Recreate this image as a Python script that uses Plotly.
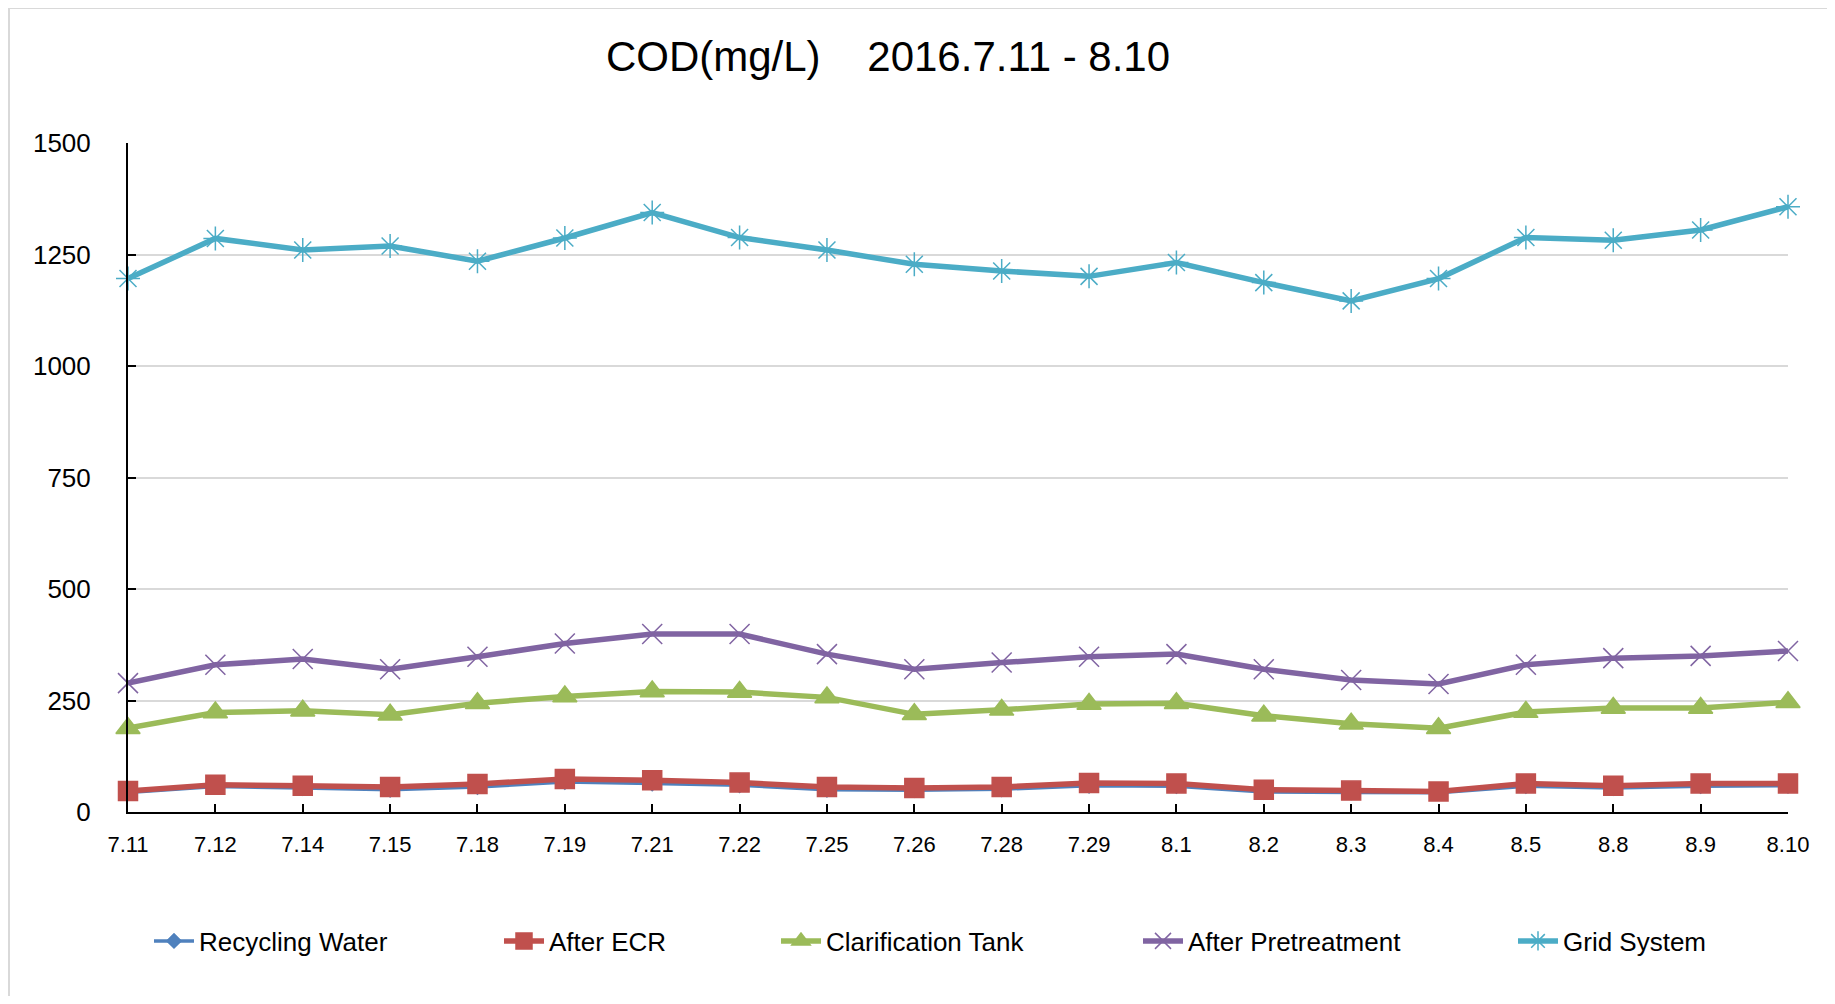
import plotly.graph_objects as go

# data
dates = ["7.11", "7.12", "7.14", "7.15", "7.18", "7.19", "7.21", "7.22", "7.25", "7.26",
         "7.28", "7.29", "8.1", "8.2", "8.3", "8.4", "8.5", "8.8", "8.9", "8.10"]
recycling_water = [44, 57, 54, 50, 56, 67, 64, 60, 50, 49, 51, 59, 58, 45, 44, 43, 58, 54, 58, 59]
after_ecr = [47, 61, 59, 56, 63, 74, 71, 66, 56, 54, 56, 65, 64, 50, 48, 46, 64, 59, 64, 64]
clarification_tank = [188, 223, 227, 218, 244, 259, 270, 269, 257, 219, 229, 242, 244, 216, 198, 188, 224, 233, 233, 246]
after_pretreatment = [289, 330, 343, 320, 348, 378, 399, 399, 354, 320, 335, 348, 354, 320, 296, 287, 330, 345, 350, 361]
grid_system = [1196, 1286, 1260, 1269, 1235, 1287, 1344, 1288, 1260, 1228, 1213, 1201, 1232, 1187, 1146, 1196, 1288, 1282, 1305, 1357]
y_ticks = [0, 250, 500, 750, 1000, 1250, 1500]

# page body has an 8px margin, so the figure is a bit smaller than the window
W, H = 1827, 988
ML, MR, MT, MB = 120, 47, 135, 184
FONT = "Liberation Sans, Arial, sans-serif"

series = [
    ("Recycling Water", recycling_water, "#4F81BD", "diamond", 11, 3.5),
    ("After ECR", after_ecr, "#C0504D", "square", 19, 5.5),
    ("Clarification Tank", clarification_tank, "#9BBB59", "triangle-up", 21, 5.5),
    ("After Pretreatment", after_pretreatment, "#8064A2", "x-thin-open", 20, 5.5),
    ("Grid System", grid_system, "#4BACC6", "asterisk-open", 20, 5.5),
]
# legend entry left edges (px)
legend_x = [141, 491, 768, 1130, 1505]

fig = go.Figure()
for i, (name, vals, color, sym, size, lw) in enumerate(series):
    fig.add_trace(
        go.Scatter(
            x=list(range(len(dates))),
            y=vals,
            mode="lines+markers",
            name=name,
            line=dict(color=color, width=lw),
            marker=dict(symbol=sym, size=size, color=color, line=dict(color=color, width=1.5)),
            cliponaxis=False,
            legend="legend" if i == 0 else f"legend{i + 1}",
        )
    )

legends = {}
for i, lx in enumerate(legend_x):
    key = "legend" if i == 0 else f"legend{i + 1}"
    legends[key] = dict(
        x=lx / W, xref="container", xanchor="left",
        y=1 - 933 / H, yref="container", yanchor="middle",
        orientation="h", font=dict(family=FONT, size=26, color="black"),
        bgcolor="rgba(0,0,0,0)", itemwidth=40,
    )

fig.update_layout(
    width=W,
    height=H,
    paper_bgcolor="white",
    plot_bgcolor="white",
    margin=dict(l=ML, r=MR, t=MT, b=MB),
    title=dict(
        text="COD(mg/L)\u00a0\u00a0\u00a0 2016.7.11 - 8.10",
        x=880 / W, xref="container", xanchor="center",
        y=1 - 48 / H, yref="container", yanchor="middle",
        font=dict(family=FONT, size=42, color="black"),
    ),
    showlegend=True,
    **legends,
)

fig.update_xaxes(
    range=[0, len(dates) - 1],
    tickmode="array",
    tickvals=list(range(len(dates))),
    ticktext=dates,
    showline=True, linecolor="black", linewidth=2,
    ticks="inside", ticklen=8, tickcolor="black", tickwidth=1.5,
    showgrid=False, zeroline=False, tickangle=0,
    ticklabelstandoff=12,
    tickfont=dict(family=FONT, size=22, color="black"),
)
fig.update_yaxes(
    range=[0, 1500],
    tickvals=y_ticks,
    showline=True, linecolor="black", linewidth=2,
    ticks="inside", ticklen=8, tickcolor="black", tickwidth=1.5,
    showgrid=True, gridcolor="#d9d9d9", gridwidth=1.5, zeroline=False,
    ticklabelstandoff=30,
    tickfont=dict(family=FONT, size=26, color="black"),
)

# chart area border
pw, ph = W - ML - MR, H - MT - MB
fig.add_shape(
    type="rect", xref="paper", yref="paper",
    x0=(1 - ML) / pw, x1=(W - 7 - ML) / pw,
    y0=-0.4, y1=(H - MB) / ph,
    line=dict(color="#d9d9d9", width=2), layer="below",
)

fig.write_html("out.html")
